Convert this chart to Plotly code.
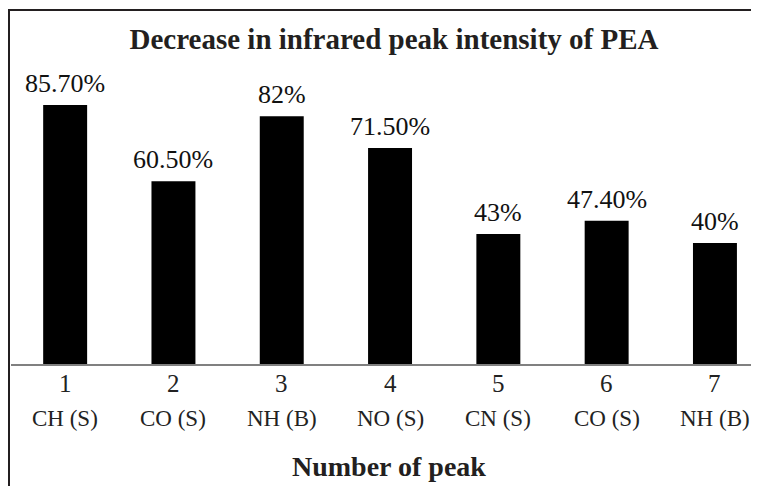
import plotly.graph_objects as go

peaks = ["1", "2", "3", "4", "5", "6", "7"]
bonds = ["CH (S)", "CO (S)", "NH (B)", "NO (S)", "CN (S)", "CO (S)", "NH (B)"]
values = [85.7, 60.5, 82, 71.5, 43, 47.4, 40]
labels = ["85.70%", "60.50%", "82%", "71.50%", "43%", "47.40%", "40%"]

FONT = "Liberation Serif, Times New Roman, serif"
O = 8  # page body margin offset
W, H = 759 - O, 486 - O
L, R, T, B = 11 - O, 0, 30 - O, 486 - 364
PW, PH = W - L - R, H - T - B

def py(screen_y):
    # screen y pixel -> paper y
    return ((H - B) - (screen_y - O)) / PH

fig = go.Figure()
fig.add_trace(go.Bar(
    x=peaks, y=values, width=0.406,
    marker=dict(color="#000000", line=dict(width=0)),
    cliponaxis=False,
))

for i, (v, lab) in enumerate(zip(values, labels)):
    fig.add_annotation(x=i, xref="x", y=v, yref="y", text=lab, showarrow=False,
                       yanchor="bottom", yshift=5,
                       font=dict(family=FONT, size=26, color="#111111"))

for i, (p, b) in enumerate(zip(peaks, bonds)):
    fig.add_annotation(x=i, xref="x", y=py(383), yref="paper",
                       text=p, showarrow=False, yanchor="middle",
                       font=dict(family=FONT, size=25, color="#222222"))
    fig.add_annotation(x=i, xref="x", y=py(418), yref="paper",
                       text=b, showarrow=False, yanchor="middle",
                       font=dict(family=FONT, size=23, color="#222222"))

fig.add_annotation(x=(389 - 11) / PW, xref="paper", y=py(466), yref="paper",
                   text="<b>Number of peak</b>", showarrow=False, yanchor="middle",
                   font=dict(family=FONT, size=28, color="#231f20"))

# outer frame
fig.add_shape(type="rect", xref="paper", yref="paper",
              x0=(1 - L) / PW, x1=1.5, y0=-0.6, y1=py(10),
              line=dict(color="#231f20", width=2), fillcolor="rgba(0,0,0,0)")

fig.update_layout(
    width=W, height=H,
    margin=dict(l=L, r=R, t=T, b=B, pad=0),
    paper_bgcolor="white", plot_bgcolor="white",
    showlegend=False,
    title=dict(text="<b>Decrease in infrared peak intensity of PEA</b>",
               x=(394 - O) / W, xanchor="center", y=1 - (39 - O) / H, yanchor="middle",
               font=dict(family=FONT, size=29, color="#231f20")),
    xaxis=dict(type="category", range=[-0.5, -0.5 + PW / 108.3], showline=True,
               linecolor="#808080", linewidth=1.5, ticks="", showgrid=False,
               zeroline=False, showticklabels=False),
    yaxis=dict(range=[0, PH / 3.022], visible=False, showgrid=False, zeroline=False),
)

fig.write_html("out.html")
